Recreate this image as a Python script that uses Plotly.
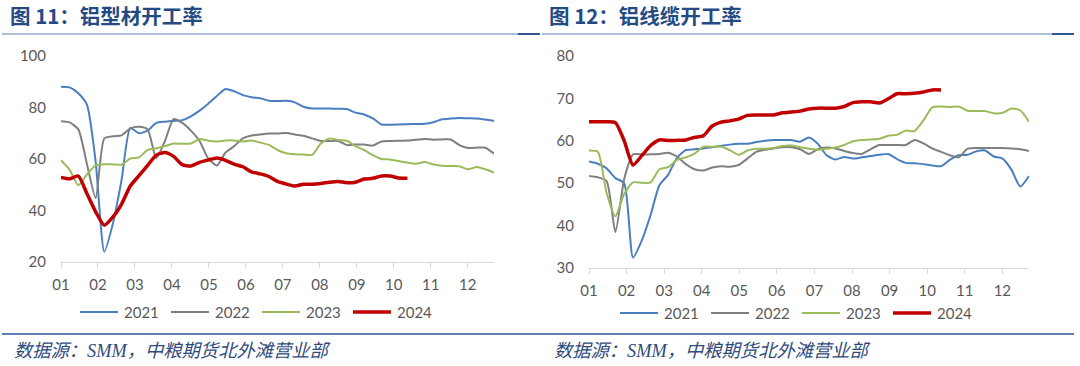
import plotly.graph_objects as go

# ---------------- data ----------------
month_labels = ["01", "02", "03", "04", "05", "06", "07", "08", "09", "10", "11", "12"]
years = ["2021", "2022", "2023", "2024"]

# Fig 11: aluminium profile operating rate (%), weekly
profile_2021 = [88.1, 87.8, 85.5, 81.0, 59.0, 24.0, 35.0, 52.0, 72.0, 70.0, 71.0, 74.0, 74.5, 74.8,
                75.1, 76.6, 78.8, 81.5, 84.5, 87.2, 86.3, 84.8, 84.0, 83.6, 82.6, 82.5, 82.6, 82.0,
                80.3, 79.6, 79.6, 79.6, 79.5, 79.4, 78.0, 77.3, 75.8, 73.4, 73.3, 73.4, 73.5, 73.6,
                73.7, 74.3, 75.4, 75.7, 75.9, 75.8, 75.7, 75.3, 74.8]
profile_2022 = [74.7, 74.2, 71.5, 58.0, 44.8, 68.0, 68.8, 69.2, 71.9, 72.5, 71.5, 60.3, 67.0, 75.5,
                74.0, 71.0, 67.0, 60.2, 57.5, 62.5, 65.0, 68.0, 69.1, 69.5, 69.9, 69.9, 70.1, 69.5,
                69.0, 68.0, 67.0, 67.0, 67.0, 65.4, 65.6, 65.6, 65.2, 66.8, 67.0, 67.1, 67.2, 67.5,
                67.8, 67.5, 67.6, 67.6, 65.4, 64.3, 64.4, 64.4, 62.1]
profile_2023 = [59.5, 55.8, 49.8, 54.0, 57.5, 58.0, 57.9, 57.8, 60.2, 60.6, 63.5, 64.2, 65.0, 66.0,
                65.9, 66.0, 67.8, 67.1, 66.8, 67.2, 67.2, 66.8, 67.2, 66.4, 65.5, 63.5, 62.2, 61.8,
                61.7, 61.6, 66.0, 68.0, 67.4, 67.1, 65.0, 63.5, 61.5, 60.0, 59.8, 59.2, 58.6, 58.2,
                58.8, 57.9, 57.4, 57.3, 57.2, 56.0, 56.9, 56.0, 54.7]
profile_2024 = [52.8, 52.3, 53.4, 46.5, 39.5, 34.3, 37.5, 42.5, 49.5, 53.5, 57.5, 61.5, 62.5, 61.0,
                57.8, 57.3, 58.7, 59.6, 60.4, 59.5, 58.0, 57.0, 55.0, 54.2, 53.2, 51.3, 50.3, 49.5,
                50.2, 50.2, 50.5, 51.0, 51.3, 50.8, 51.0, 52.2, 52.5, 53.4, 53.4, 52.6, 52.5]

# Fig 12: aluminium cable operating rate (%), weekly
cable_2021 = [55.1, 54.6, 53.5, 51.2, 50.0, 32.5, 36.5, 42.5, 49.5, 52.0, 56.0, 57.8, 58.0, 58.2,
              58.5, 58.8, 59.1, 59.3, 59.3, 59.7, 60.0, 60.2, 60.2, 60.2, 59.8, 60.8, 59.3, 56.6,
              55.6, 56.2, 55.8, 56.1, 56.4, 56.7, 56.9, 55.7, 54.8, 54.7, 54.5, 54.2, 54.0, 55.5,
              56.6, 56.7, 57.5, 57.7, 56.3, 55.8, 53.2, 49.2, 51.7]
cable_2022 = [51.7, 51.4, 50.5, 38.5, 51.0, 56.8, 56.8, 56.8, 56.9, 57.2, 56.3, 54.5, 53.3, 53.0,
              53.7, 54.0, 53.9, 54.3, 55.8, 57.4, 57.9, 58.2, 58.5, 58.5, 58.0, 56.9, 58.0, 58.4,
              58.2, 57.6, 57.1, 56.9, 58.0, 59.0, 59.0, 59.0, 59.0, 60.2, 59.4, 58.2, 57.4, 56.6,
              56.1, 58.1, 58.3, 58.3, 58.3, 58.3, 58.2, 58.0, 57.6]
cable_2023 = [57.7, 57.4, 47.7, 42.2, 47.5, 50.2, 50.1, 50.2, 53.3, 53.8, 55.5, 56.1, 57.0, 58.6,
              58.6, 58.6, 57.8, 56.7, 57.7, 58.1, 58.1, 58.3, 58.8, 58.9, 58.5, 58.1, 57.9, 58.1,
              58.4, 59.0, 59.9, 60.2, 60.3, 60.5, 61.2, 61.4, 62.4, 62.3, 64.8, 67.9, 68.1, 68.0,
              68.1, 67.1, 67.0, 67.0, 66.5, 66.6, 67.6, 67.2, 64.5]
cable_2024 = [64.5, 64.5, 64.5, 64.3, 60.0, 54.3, 56.5, 58.9, 60.2, 60.1, 60.1, 60.2, 60.8, 61.2,
              63.5, 64.4, 64.7, 65.1, 66.0, 66.1, 66.1, 66.1, 66.6, 66.8, 67.0, 67.5, 67.7, 67.7,
              67.7, 68.1, 69.0, 69.2, 69.2, 68.9, 69.9, 71.1, 71.1, 71.2, 71.5, 72.0, 72.0]

panel_titles = ["图 11：铝型材开工率", "图 12：铝线缆开工率"]
source_text = "数据源：SMM，中粮期货北外滩营业部"

# ---------------- style ----------------
W, H = 1080, 366
colors = {"2021": "#4A7EBF", "2022": "#7F7F7F", "2023": "#9BBB59", "2024": "#C00000"}
widths = {"2021": 2, "2022": 2, "2023": 2, "2024": 3.5}
weeks_per_month = 4.27
tick_positions = [i * weeks_per_month for i in range(len(month_labels))]
tick_font = dict(family="Lato, Open Sans, sans-serif", size=15, color="#595959")


def px(x):
    return x / W


def py(y):
    return 1 - y / H


fig = go.Figure()

panels = [
    dict(series=[profile_2021, profile_2022, profile_2023, profile_2024], xa="x", ya="y"),
    dict(series=[cable_2021, cable_2022, cable_2023, cable_2024], xa="x2", ya="y2"),
]
for p in panels:
    for yr, vals in zip(years, p["series"]):
        fig.add_trace(go.Scatter(
            x=list(range(len(vals))), y=vals, mode="lines", name=yr,
            line=dict(color=colors[yr], width=widths[yr], shape="spline", smoothing=0.6),
            xaxis=p["xa"], yaxis=p["ya"], showlegend=False, hoverinfo="skip",
        ))

xaxis_common = dict(
    range=[0, 50], tickmode="array", tickvals=tick_positions, ticktext=month_labels,
    showline=True, linecolor="#D9D9D9", linewidth=1, ticks="outside", ticklen=5,
    tickcolor="#D9D9D9", showgrid=False, zeroline=False, tickfont=tick_font,
    ticklabelstandoff=4, fixedrange=True, automargin=False,
)
yaxis_common = dict(showline=False, ticks="", showgrid=False, zeroline=False,
                    tickfont=tick_font, ticklabelstandoff=14, fixedrange=True, automargin=False)

fig.update_layout(
    template="none",
    width=W, height=H, margin=dict(l=0, r=0, t=0, b=0, pad=0, autoexpand=False),
    paper_bgcolor="white", plot_bgcolor="white", showlegend=False,
    xaxis=dict(domain=[px(61), px(494)], anchor="y", **xaxis_common),
    yaxis=dict(domain=[py(262), py(56)], range=[20, 100], dtick=20, anchor="x", **yaxis_common),
    xaxis2=dict(domain=[px(589), px(1029)], anchor="y2", **xaxis_common),
    yaxis2=dict(domain=[py(268), py(56)], range=[30, 80], dtick=10, anchor="x2", **yaxis_common),
)

shapes = []
annotations = []

# title separators
for x0, x1, xd in [(2, 540, 518), (542, 1074, 1052)]:
    shapes.append(dict(type="line", xref="paper", yref="paper", x0=px(x0), x1=px(xd),
                       y0=py(34), y1=py(34), line=dict(color="#AFC0D6", width=2)))
    shapes.append(dict(type="line", xref="paper", yref="paper", x0=px(xd), x1=px(x1),
                       y0=py(34), y1=py(34), line=dict(color="#2F5597", width=2)))
# bottom rule
shapes.append(dict(type="line", xref="paper", yref="paper", x0=px(2), x1=px(1074),
                   y0=py(334), y1=py(334), line=dict(color="#2F5597", width=1.5)))

# titles
for tx, title in zip([8, 547], panel_titles):
    annotations.append(dict(text="<b>" + title + "</b>", xref="paper", yref="paper",
                            x=px(tx), y=py(15), xanchor="left", yanchor="middle", showarrow=False,
                            font=dict(family="Noto Sans CJK SC", size=20.5, color="#244A84")))
# sources
for sx in [12, 552]:
    annotations.append(dict(text=source_text, xref="paper", yref="paper",
                            x=px(sx), y=py(351), xanchor="left", yanchor="middle", showarrow=False,
                            font=dict(family="Liberation Serif, Noto Sans CJK SC", size=18.3,
                                      color="#2F4B7C", style="italic")))

# legends
for lx, ly in [(80, 312), (620, 313)]:
    for i, yr in enumerate(years):
        x0 = lx + 91 * i
        shapes.append(dict(type="line", xref="paper", yref="paper", x0=px(x0), x1=px(x0 + 38),
                           y0=py(ly), y1=py(ly),
                           line=dict(color=colors[yr], width=widths[yr])))
        annotations.append(dict(text=yr, xref="paper", yref="paper", x=px(x0 + 42), y=py(ly),
                                xanchor="left", yanchor="middle", showarrow=False,
                                font=tick_font))

fig.update_layout(shapes=shapes, annotations=annotations)
fig.write_html("out.html", config={"displayModeBar": False},
               post_script="document.body.style.margin='0';document.body.style.overflow='hidden';")
